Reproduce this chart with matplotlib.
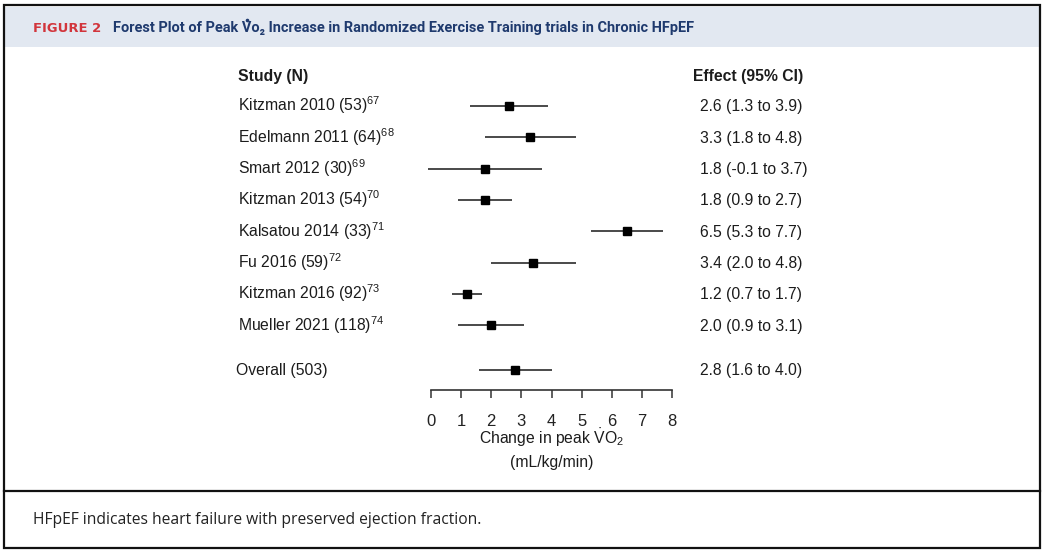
import matplotlib
matplotlib.use("Agg")
import matplotlib.pyplot as plt
from matplotlib import font_manager, transforms
from matplotlib.patches import Rectangle
from matplotlib.lines import Line2D

# ---- data ----
studies = ["Kitzman 2010", "Edelmann 2011", "Smart 2012", "Kitzman 2013",
           "Kalsatou 2014", "Fu 2016", "Kitzman 2016", "Mueller 2021"]
sizes = [53, 64, 30, 54, 33, 59, 92, 118]
refs = [67, 68, 69, 70, 71, 72, 73, 74]
effects = [2.6, 3.3, 1.8, 1.8, 6.5, 3.4, 1.2, 2.0]
ci_low = [1.3, 1.8, -0.1, 0.9, 5.3, 2.0, 0.7, 0.9]
ci_high = [3.9, 4.8, 3.7, 2.7, 7.7, 4.8, 1.7, 3.1]
overall_n = 503
overall_effect = 2.8
overall_low = 1.6
overall_high = 4.0
x_ticks = [0, 1, 2, 3, 4, 5, 6, 7, 8]

W, H = 1046, 553
installed = {f.name for f in font_manager.fontManager.ttflist}
body_font = "Liberation Sans"
head_font = "Liberation Sans Narrow" if "Liberation Sans Narrow" in installed else "Roboto"
note_font = "Open Sans"

plt.rcParams["font.family"] = [body_font, "DejaVu Sans"]
plt.rcParams["mathtext.fontset"] = "custom"
plt.rcParams["mathtext.rm"] = body_font
plt.rcParams["mathtext.it"] = body_font + ":italic"
plt.rcParams["mathtext.bf"] = body_font + ":bold"

fig = plt.figure(figsize=(W / 100, H / 100), dpi=100)
renderer = fig.canvas.get_renderer()


def fx(x):
    return x / W


def fy(y):
    return 1 - y / H


def width_of(s, **kw):
    t = fig.text(0, 0, s, **kw)
    w = t.get_window_extent(renderer).width
    t.remove()
    return w


# frame, header band, separator
fig.patches.append(Rectangle((fx(5), fy(47)), fx(1034), 40 / H, transform=fig.transFigure,
                             facecolor="#e2e8f1", edgecolor="none", zorder=0))
fig.patches.append(Rectangle((fx(4), fy(548)), fx(1036), 543 / H, transform=fig.transFigure,
                             facecolor="none", edgecolor="#111111", lw=1.6, zorder=5))
fig.lines.append(Line2D([fx(4), fx(1040)], [fy(491), fy(491)], transform=fig.transFigure,
                        color="#111111", lw=1.6))

# header title
fig_kw = dict(fontweight="bold", family=["DejaVu Sans"])
fig_label = "FIGURE 2"
fig_fs = 10 * 68 / width_of(fig_label, fontsize=10, **fig_kw)
fig.text(fx(33), fy(28.5), fig_label, color="#d2353c", fontsize=fig_fs, va="center", ha="left",
         **fig_kw)
head_kw = dict(fontweight="bold", family=[head_font, "DejaVu Sans"])
title = "Forest Plot of Peak Vo\u2082 Increase in Randomized Exercise Training trials in Chronic HFpEF"
head_fs = 10 * 584 / width_of(title, fontsize=10, **head_kw)
fig.text(fx(113), fy(28), title, color="#1f3a6e", fontsize=head_fs, va="center", ha="left",
         **head_kw)
# dot over the V of Vo2
v_left = 113 + width_of("Forest Plot of Peak ", fontsize=head_fs, **head_kw)
v_w = width_of("V", fontsize=head_fs, **head_kw)
fig.lines.append(Line2D([fx(v_left + v_w / 2)], [fy(20)], transform=fig.transFigure,
                        marker="o", ms=1.6, color="#1f3a6e", lw=0))

# footnote
note_kw = dict(family=[note_font, "DejaVu Sans"])
note = "HFpEF indicates heart failure with preserved ejection fraction."
note_fs = 10 * 450 / width_of(note, fontsize=10, **note_kw)
fig.text(fx(33), fy(520), note, color="#222222", fontsize=note_fs, va="center", ha="left",
         **note_kw)

# forest plot axes: x 0..8 spans px 431..672, rows every 31.3 px starting at y=106
row_top, row_step = 106, 31.3
ax = fig.add_axes([fx(431), fy(390), fx(672 - 431), (390 - 60) / H])
ax.set_xlim(0, 8)
ax.set_ylim((390 - row_top) / row_step, (60 - row_top) / row_step)
rows = list(range(len(studies)))
overall_row = (370 - row_top) / row_step
header_row = (75 - row_top) / row_step

line_col = "#3c3c3c"
ax.hlines(rows, ci_low, ci_high, color=line_col, lw=1.3, clip_on=False)
ax.plot(effects, rows, "s", color="black", ms=6, clip_on=False)
ax.hlines([overall_row], [overall_low], [overall_high], color=line_col, lw=1.3, clip_on=False)
ax.plot([overall_effect], [overall_row], "s", color="black", ms=6, clip_on=False)

for side in ["top", "right", "left"]:
    ax.spines[side].set_visible(False)
ax.spines["bottom"].set_linewidth(1.2)
ax.spines["bottom"].set_color("#333333")
ax.set_yticks([])
ax.set_xticks(x_ticks)
ax.tick_params(axis="x", length=6, width=1.1, color="#333333", labelsize=12,
               labelcolor="#222222", pad=11)
ax.patch.set_visible(False)

# text columns (x in figure, y in rows, baseline shifted to center caps on the row)
base = transforms.blended_transform_factory(fig.transFigure, ax.transData)
trans = transforms.offset_copy(base, fig=fig, x=0, y=-5.5, units="dots")
txt_col = "#1c1c1c"
fs = 11.3

ax.text(fx(238), header_row, "Study (N)", transform=trans, fontsize=fs, fontweight="bold",
        color=txt_col, va="baseline")
ax.text(fx(693), header_row, "Effect (95% CI)", transform=trans, fontsize=fs, fontweight="bold",
        color=txt_col, va="baseline")

for r, name, n, ref, e, lo, hi in zip(rows, studies, sizes, refs, effects, ci_low, ci_high):
    ax.text(fx(238), r, f"{name} ({n})" + r"$^{\mathrm{" + str(ref) + "}}$", transform=trans,
            fontsize=fs, color=txt_col, va="baseline")
    ax.text(fx(700), r, f"{e:.1f} ({lo:.1f} to {hi:.1f})", transform=trans,
            fontsize=fs, color=txt_col, va="baseline")

ax.text(fx(236), overall_row, f"Overall ({overall_n})", transform=trans,
        fontsize=fs, color=txt_col, va="baseline")
ax.text(fx(700), overall_row,
        f"{overall_effect:.1f} ({overall_low:.1f} to {overall_high:.1f})", transform=trans,
        fontsize=fs, color=txt_col, va="baseline")

# axis label
fig.text(fx(552), fy(438), r"Change in peak $\dot{\mathrm{V}}\mathrm{O}_{2}$", fontsize=fs,
         color=txt_col, ha="center", va="center")
fig.text(fx(552), fy(462), "(mL/kg/min)", fontsize=fs, color=txt_col, ha="center", va="center")

fig.savefig("out.png", dpi=100)
